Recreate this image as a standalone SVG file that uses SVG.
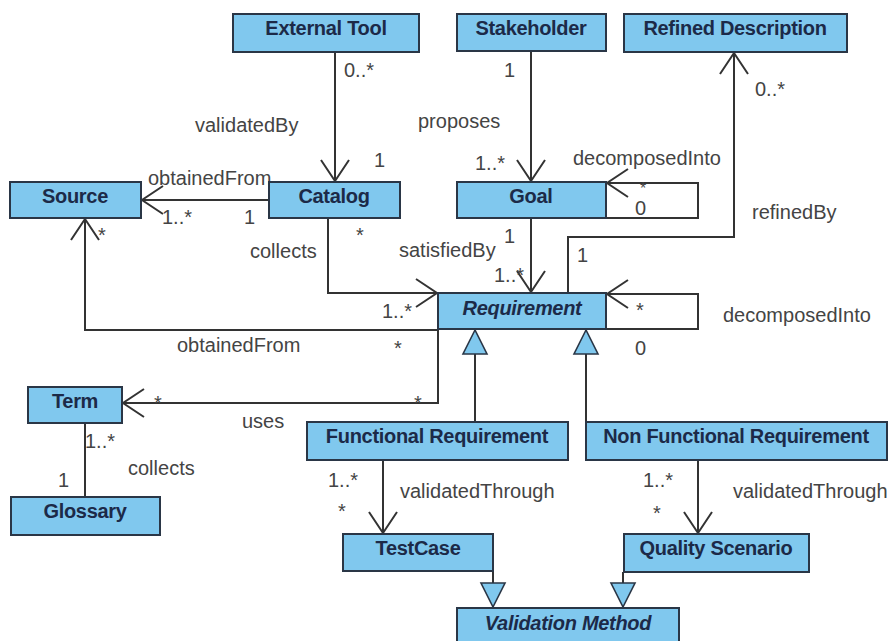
<svg xmlns="http://www.w3.org/2000/svg" width="894" height="641" viewBox="0 0 894 641">
  <style>
    .box { fill: #80c8ee; stroke: #2a3646; stroke-width: 2; }
    .name { font-family: "Liberation Sans", Arial, sans-serif; font-size: 20px; font-weight: bold; fill: #1c2a48; text-anchor: middle; letter-spacing: -0.3px; }
    .abstract { font-style: italic; }
    .conn { fill: none; stroke: #333; stroke-width: 2; }
    .lbl { font-family: "Liberation Sans", Arial, sans-serif; font-size: 20px; fill: #444; }
    .small { font-size: 16px; }
  </style>
  <defs>
    <marker id="open" viewBox="-24 -16 26 32" refX="0" refY="0" markerWidth="26" markerHeight="32" markerUnits="userSpaceOnUse" orient="auto">
      <path d="M-21,-14 L0,0 L-21,14" fill="none" stroke="#333" stroke-width="2"/>
    </marker>
    <marker id="inherit" viewBox="-26 -14 28 28" refX="0" refY="0" markerWidth="28" markerHeight="28" markerUnits="userSpaceOnUse" orient="auto">
      <path d="M0,0 L-24,-12 L-24,12 Z" fill="#80c8ee" stroke="#2a3646" stroke-width="1.6"/>
    </marker>
  </defs>
  <rect width="894" height="641" fill="#ffffff"/>

  <!-- associations and generalizations -->
  <g id="connectors">
    <path class="conn" d="M335,52 V181" marker-end="url(#open)"/>
    <path class="conn" d="M269,200 H142" marker-end="url(#open)"/>
    <path class="conn" d="M531,51 V181" marker-end="url(#open)"/>
    <path class="conn" d="M606,218 H698 V183 H607" marker-end="url(#open)"/>
    <path class="conn" d="M531,218 V292" marker-end="url(#open)"/>
    <path class="conn" d="M568,293 V237 H734 V53" marker-end="url(#open)"/>
    <path class="conn" d="M328,218 V293 H437" marker-end="url(#open)"/>
    <path class="conn" d="M438,329 V330 H85 V219" marker-end="url(#open)"/>
    <path class="conn" d="M438,330 V403 H123" marker-end="url(#open)"/>
    <path class="conn" d="M606,329 H698 V294 H607" marker-end="url(#open)"/>
    <path class="conn" d="M85,423 V497"/>
    <path class="conn" d="M475,422 V330" marker-end="url(#inherit)"/>
    <path class="conn" d="M586,422 V330" marker-end="url(#inherit)"/>
    <path class="conn" d="M383,460 V533" marker-end="url(#open)"/>
    <path class="conn" d="M698,460 V533" marker-end="url(#open)"/>
    <path class="conn" d="M493,571 V607" marker-end="url(#inherit)"/>
    <path class="conn" d="M623,572 V607" marker-end="url(#inherit)"/>
  </g>

  <!-- association names and multiplicities -->
  <g id="labels">
    <text class="lbl" x="344" y="77">0..*</text>
    <text class="lbl" x="195" y="132">validatedBy</text>
    <text class="lbl" x="374" y="167">1</text>
    <text class="lbl" x="418" y="128">proposes</text>
    <text class="lbl" x="504" y="77">1</text>
    <text class="lbl" x="475" y="170">1..*</text>
    <text class="lbl" x="573" y="165">decomposedInto</text>
    <text class="lbl small" x="640" y="194">*</text>
    <text class="lbl" x="635" y="215">0</text>
    <text class="lbl" x="755" y="96">0..*</text>
    <text class="lbl" x="752" y="219">refinedBy</text>
    <text class="lbl" x="148" y="185">obtainedFrom</text>
    <text class="lbl" x="162" y="224">1..*</text>
    <text class="lbl" x="244" y="224">1</text>
    <text class="lbl" x="98" y="242">*</text>
    <text class="lbl" x="356" y="242">*</text>
    <text class="lbl" x="250" y="258">collects</text>
    <text class="lbl" x="399" y="257">satisfiedBy</text>
    <text class="lbl" x="504" y="243">1</text>
    <text class="lbl" x="494" y="282">1..*</text>
    <text class="lbl" x="577" y="262">1</text>
    <text class="lbl" x="382" y="318">1..*</text>
    <text class="lbl" x="636" y="317">*</text>
    <text class="lbl" x="635" y="355">0</text>
    <text class="lbl" x="723" y="322">decomposedInto</text>
    <text class="lbl" x="177" y="352">obtainedFrom</text>
    <text class="lbl" x="394" y="355">*</text>
    <text class="lbl" x="154" y="410">*</text>
    <text class="lbl" x="414" y="410">*</text>
    <text class="lbl" x="242" y="428">uses</text>
    <text class="lbl" x="85" y="448">1..*</text>
    <text class="lbl" x="58" y="487">1</text>
    <text class="lbl" x="128" y="475">collects</text>
    <text class="lbl" x="328" y="487">1..*</text>
    <text class="lbl" x="338" y="518">*</text>
    <text class="lbl" x="400" y="498">validatedThrough</text>
    <text class="lbl" x="643" y="487">1..*</text>
    <text class="lbl" x="653" y="520">*</text>
    <text class="lbl" x="733" y="498">validatedThrough</text>
  </g>

  <!-- classes -->
  <g id="external-tool"><rect class="box" x="233" y="14" width="186" height="38"/><text class="name" x="326" y="35">External Tool</text></g>
  <g id="stakeholder"><rect class="box" x="457" y="14" width="149" height="37"/><text class="name" x="531" y="35">Stakeholder</text></g>
  <g id="refined-description"><rect class="box" x="624" y="14" width="223" height="38"/><text class="name" x="735" y="35">Refined Description</text></g>
  <g id="source"><rect class="box" x="10" y="182" width="131" height="36"/><text class="name" x="75" y="203">Source</text></g>
  <g id="catalog"><rect class="box" x="269" y="182" width="131" height="36"/><text class="name" x="334" y="203">Catalog</text></g>
  <g id="goal"><rect class="box" x="457" y="182" width="149" height="36"/><text class="name" x="531" y="203">Goal</text></g>
  <g id="requirement"><rect class="box" x="438" y="293" width="168" height="36"/><text class="name abstract" x="522" y="315">Requirement</text></g>
  <g id="term"><rect class="box" x="28" y="387" width="94" height="36"/><text class="name" x="75" y="408">Term</text></g>
  <g id="glossary"><rect class="box" x="11" y="497" width="149" height="38"/><text class="name" x="85" y="518">Glossary</text></g>
  <g id="functional-requirement"><rect class="box" x="307" y="422" width="261" height="38"/><text class="name" x="437" y="443">Functional Requirement</text></g>
  <g id="non-functional-requirement"><rect class="box" x="586" y="422" width="301" height="38"/><text class="name" x="736" y="443">Non Functional Requirement</text></g>
  <g id="test-case"><rect class="box" x="343" y="534" width="150" height="37"/><text class="name" x="418" y="555">TestCase</text></g>
  <g id="quality-scenario"><rect class="box" x="624" y="534" width="185" height="38"/><text class="name" x="716" y="555">Quality Scenario</text></g>
  <g id="validation-method"><rect class="box" x="457" y="608" width="222" height="40"/><text class="name abstract" x="568" y="630">Validation Method</text></g>
</svg>
